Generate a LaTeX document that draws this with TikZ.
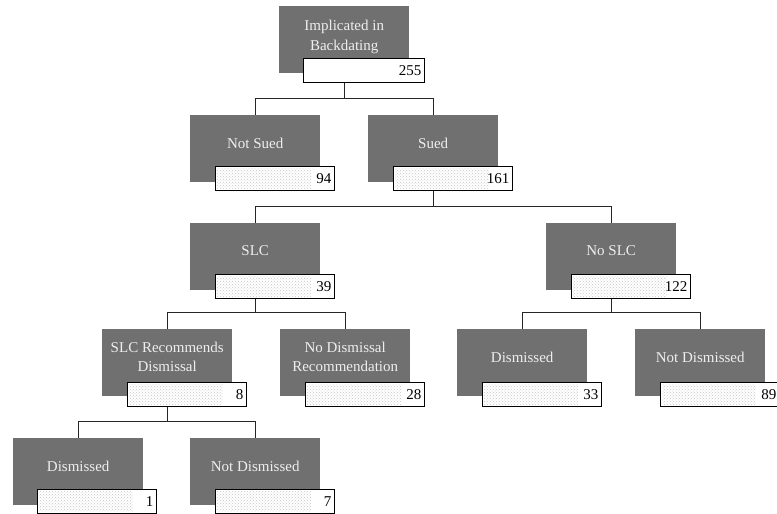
\documentclass[tikz,border=0pt]{standalone}
\usepackage{fontspec}
\setmainfont{Liberation Serif}
\usetikzlibrary{patterns,calc}
\definecolor{boxgray}{HTML}{707070}
\definecolor{txtgray}{HTML}{EEEEEE}
\tikzset{
  x=1pt,y=-1pt,
  graybox/.style={rectangle,fill=boxgray,minimum width=130pt,minimum height=67pt,anchor=north west,inner sep=0pt},
  gtext/.style={text=txtgray,font=\fontsize{15}{19.5}\selectfont,align=center,inner sep=0pt},
  numbox/.style={rectangle,draw=black,line width=0.8pt,fill=white,minimum width=119pt,minimum height=24pt,anchor=north west,inner sep=0pt,font=\fontsize{15}{16}\selectfont},
  conn/.style={line width=0.8pt,draw=black!85},
}
\newcommand{\numtxt}[1]{\makebox[113pt][r]{#1}}
\newcommand{\stip}[1]{\fill[pattern=crosshatch dots,pattern color=gray!45] ($(#1.north west)+(2,2)$) rectangle ($(#1.south east)+(-24,-2)$);}
\begin{document}
\begin{tikzpicture}
\useasboundingbox (0,0) rectangle (777,514);
% gray boxes
\node[graybox] (g0) at (279,6) {};
\node[graybox] (g1) at (190,115) {};
\node[graybox] (g2) at (368,115) {};
\node[graybox] (g3) at (190,223) {};
\node[graybox] (g4) at (546,223) {};
\node[graybox] (g5) at (102,329) {};
\node[graybox] (g6) at (280,329) {};
\node[graybox] (g7) at (457,329) {};
\node[graybox] (g8) at (635,329) {};
\node[graybox] (g9) at (13,438) {};
\node[graybox] (g10) at (190,438) {};
% texts
\node[gtext] (t0) at ($(g0.north)+(0,31)$) {Implicated in\\Backdating};
\node[gtext] (t1) at ($(g1.north)+(0,28)$) {Not Sued};
\node[gtext] (t2) at ($(g2.north)+(0,28)$) {Sued};
\node[gtext] (t3) at ($(g3.north)+(0,28)$) {SLC};
\node[gtext] (t4) at ($(g4.north)+(0,28)$) {No SLC};
\node[gtext] (t5) at ($(g5.north)+(0,28)$) {SLC Recommends\\Dismissal};
\node[gtext] (t6) at ($(g6.north)+(0,28)$) {No Dismissal\\Recommendation};
\node[gtext] (t7) at ($(g7.north)+(0,28)$) {Dismissed};
\node[gtext] (t8) at ($(g8.north)+(0,28)$) {Not Dismissed};
\node[gtext] (t9) at ($(g9.north)+(0,28)$) {Dismissed};
\node[gtext] (t10) at ($(g10.north)+(0,28)$) {Not Dismissed};
% number boxes
\node[numbox,minimum width=121pt] (n0) at (303,58) {\makebox[115pt][r]{255}};
\node[numbox] (n1) at (215,166) {\numtxt{94}};\stip{n1}
\node[numbox] (n2) at (393,166) {\numtxt{161}};\stip{n2}
\node[numbox] (n3) at (215,274) {\numtxt{39}};\stip{n3}
\node[numbox] (n4) at (571,274) {\numtxt{122}};\stip{n4}
\node[numbox] (n5) at (127,382) {\numtxt{8}};\stip{n5}
\node[numbox] (n6) at (305,382) {\numtxt{28}};\stip{n6}
\node[numbox] (n7) at (482,382) {\numtxt{33}};\stip{n7}
\node[numbox] (n8) at (660,382) {\numtxt{89}};\stip{n8}
\node[numbox] (n9) at (37,489) {\numtxt{1}};\stip{n9}
\node[numbox] (n10) at (215,489) {\numtxt{7}};\stip{n10}
% connectors
\foreach \p/\a/\b in {0/1/2,2/3/4,3/5/6,4/7/8,5/9/10}{
  \path (g\a.north) ++(0,-17) coordinate (bar\p);
  \draw[conn] (g\a.north) -- (bar\p) -| (g\b.north);
  \draw[conn] (n\p.south -| g\p.north) -- (bar\p -| g\p.north);
}
\end{tikzpicture}
\end{document}
